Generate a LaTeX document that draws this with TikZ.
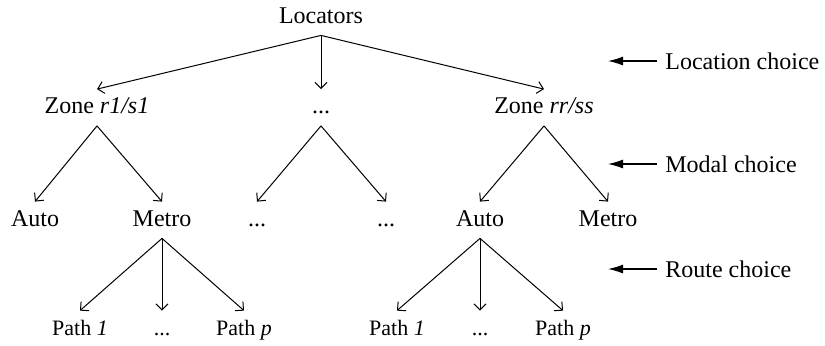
\documentclass[tikz,border=0pt]{standalone}
\usepackage{fontspec}
\setmainfont{Liberation Serif}
\usetikzlibrary{arrows.meta}

\tikzset{
    tree node/.style={font=\fontsize{12}{14}\selectfont, text height=8pt, text depth=2pt, inner sep=4pt},
    leaf node/.style={tree node, font=\fontsize{11}{13}\selectfont},
    branch/.style={line width=0.5pt, -{Straight Barb[length=3pt,width=6pt]}},
    level label/.style={font=\fontsize{12}{14}\selectfont, anchor=west, inner sep=2pt},
    level arrow/.style={line width=0.6pt, shorten <=2pt, -{Latex[length=7.5pt,width=4.5pt]}}
}

\begin{document}
\begin{tikzpicture}[x=0.5pt,y=-0.5pt]
    \useasboundingbox (0,0) rectangle (825,345);

    % top level
    \node[tree node] (loc) at (321,17) {Locators};

    % zones
    \node[tree node] (zoneA) at (97,107.5) {Zone \textit{r1/s1}};
    \node[tree node] (zoneM) at (321,107.5) {...};
    \node[tree node] (zoneB) at (544,107.5) {Zone \textit{rr/ss}};

    % modes
    \node[tree node] (autoA) at (35,220) {Auto};
    \node[tree node] (metroA) at (162,220) {Metro};
    \node[tree node] (modeM1) at (257,220) {...};
    \node[tree node] (modeM2) at (386,220) {...};
    \node[tree node] (autoB) at (480,220) {Auto};
    \node[tree node] (metroB) at (608,220) {Metro};

    % paths
    \node[leaf node] (pathA1) at (80,329) {Path \textit{1}};
    \node[leaf node] (pathAM) at (162,329) {...};
    \node[leaf node] (pathAp) at (244,329) {Path \textit{p}};
    \node[leaf node] (pathB1) at (397,329) {Path \textit{1}};
    \node[leaf node] (pathBM) at (480,329) {...};
    \node[leaf node] (pathBp) at (563,329) {Path \textit{p}};

    % branches
    \foreach \c in {zoneA,zoneM,zoneB}
        \draw[branch] (loc.south) -- (\c.north);
    \draw[branch] (zoneA.south) -- (autoA.north);
    \draw[branch] (zoneA.south) -- (metroA.north);
    \draw[branch] (zoneM.south) -- (modeM1.north);
    \draw[branch] (zoneM.south) -- (modeM2.north);
    \draw[branch] (zoneB.south) -- (autoB.north);
    \draw[branch] (zoneB.south) -- (metroB.north);
    \foreach \c in {pathA1,pathAM,pathAp}
        \draw[branch] (metroA.south) -- (\c.north);
    \foreach \c in {pathB1,pathBM,pathBp}
        \draw[branch] (autoB.south) -- (\c.north);

    % choice levels
    \node[level label] (locL) at (661,61) {Location choice};
    \node[level label] (modL) at (661,164) {Modal choice};
    \node[level label] (rouL) at (661,269) {Route choice};
    \coordinate (locT) at (608,61);
    \coordinate (modT) at (608,164);
    \coordinate (rouT) at (608,269);
    \draw[level arrow] (locL.west) -- (locT);
    \draw[level arrow] (modL.west) -- (modT);
    \draw[level arrow] (rouL.west) -- (rouT);
\end{tikzpicture}
\end{document}
